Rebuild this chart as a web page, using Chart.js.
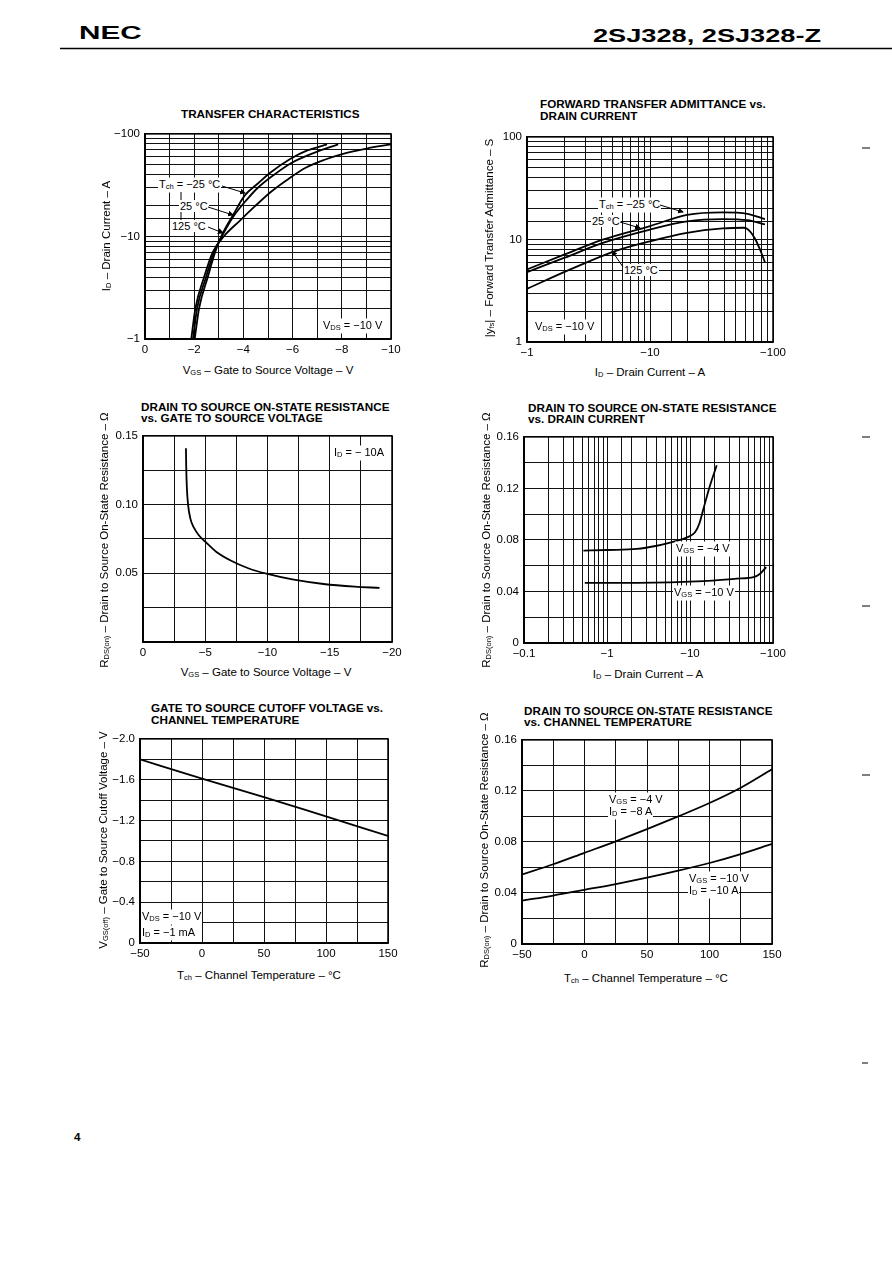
<!DOCTYPE html>
<html><head><meta charset="utf-8">
<script src="https://cdn.jsdelivr.net/npm/chart.js@4.4.1/dist/chart.umd.min.js"></script>
<style>
body{margin:0;width:892px;height:1263px;background:#fff;position:relative;overflow:hidden;font-family:"Liberation Sans",Arial,sans-serif;color:#000}
.t{position:absolute;white-space:nowrap;font-size:11.5px;line-height:12px}
.b{font-weight:bold;font-size:11.7px}
.s{font-size:7.5px;vertical-align:-1px}
.w{background:#fff;padding:0 1px;font-size:11px}
.h1{font-weight:bold;font-size:18px;line-height:18px;transform-origin:0 50%}
.h2{font-weight:bold;font-size:19px;line-height:19px;transform-origin:0 50%}
canvas{position:absolute}
</style></head><body>
<script>
// ---------- DATA ----------
// 1. Transfer characteristics (VGS in V, |ID| in A), VDS = -10 V
const tcVgsM25 = [-2.02,-2.2,-2.55,-2.85,-3.1,-3.6,-4.05,-4.6,-5.1,-5.9,-6.6,-7.4];
const tcIdM25  = [1,2,4,7,10,16.5,25,33,42,57,69,79];
const tcVgs25  = [-1.95,-2.12,-2.48,-2.8,-3.12,-3.58,-4.15,-4.6,-5.25,-5.95,-6.85,-7.85];
const tcId25   = [1,2,4,7,10,15.5,23,30,40,52,65,79];
const tcVgs125 = [-1.88,-2.05,-2.4,-2.75,-3.2,-3.85,-4.45,-5.1,-5.8,-6.55,-7.3,-8.05,-9,-10];
const tcId125  = [1,2,4,7,10,14.2,19.5,27,36,47,56,64,72,79];
// 2. Forward transfer admittance (|ID| in A, |yfs| in S), VDS = -10 V
const yfsIdM25 = [1,2,4.19,10,20,39,62,86];
const yfsM25   = [5.1,7.1,10,13.5,17.4,18.4,17.8,15.8];
const yfsId25  = [1,2,4.19,10,20,39,62,86];
const yfs25    = [4.8,6.6,9.3,12.5,15,15.8,15.4,14.0];
const yfsId125 = [1,2.25,5.2,10,20,39,58,65,72,79,86];
const yfs125   = [3.3,5.1,7.7,9.6,11.6,12.8,13,12,10,7.8,6.0];
// 3. RDS(on) vs VGS, ID = -10 A
const rvVgs = [-3.45,-3.47,-3.52,-3.62,-3.8,-4.1,-4.5,-5.0,-5.9,-7.0,-8.5,-10,-12,-14.5,-17,-19];
const rvR   = [0.141,0.128,0.113,0.100,0.090,0.083,0.0775,0.073,0.0655,0.0595,0.0535,0.0495,0.0455,0.0422,0.0403,0.0394];
// 4. RDS(on) vs ID (|ID| in A)
const riId4  = [0.52,1,2.29,4,5.77,9.2,11.5,13,14.5,17,21];
const riR4   = [0.0717,0.0722,0.073,0.0755,0.078,0.082,0.086,0.093,0.104,0.12,0.138];
const riId10 = [0.54,1,2.29,14.6,36.6,58.3,70,82.8];
const riR10  = [0.0466,0.0466,0.0466,0.048,0.05,0.0512,0.0538,0.0589];
// 5. VGS(off) vs Tch, VDS = -10 V, ID = -1 mA
const coT = [-50,0,50,100,150];
const coV = [-1.80,-1.61,-1.43,-1.24,-1.05];
// 6. RDS(on) vs Tch
const rtT   = [-50,-25,0,25,50,75,100,125,150];
const rtR4  = [0.0545,0.0625,0.0715,0.0805,0.090,0.100,0.1105,0.1225,0.137];
const rtR10 = [0.034,0.038,0.0425,0.047,0.052,0.0575,0.0635,0.0705,0.0785];

// ---------- HELPERS ----------
const FONT = '"Liberation Sans", Arial, sans-serif';
const M = '\u2212';
function pts(xs, ys){ return xs.map((x,i)=>({x, y:ys[i]})); }
function ds(xs, ys){ return {data:pts(xs,ys), showLine:true, borderColor:'#000', borderWidth:1.8, pointRadius:0, cubicInterpolationMode:'monotone', fill:false}; }
function isDec(v){ const l=Math.log10(v); return Math.abs(l-Math.round(l))<1e-6; }
function near(v, step){ return Math.abs(v/step-Math.round(v/step))<1e-6; }
function scale(axis, o){
  const s = {
    type:o.type||'linear', min:o.min, max:o.max, reverse:!!o.reverse,
    grid:{color:'#111', lineWidth:1, drawTicks:false},
    border:{display:true, color:'#000', width:1.5},
    ticks:{color:'#000', font:{family:FONT, size:11.5}, padding:axis==='x'?4:5, autoSkip:false, maxRotation:0, callback:o.label},
    afterFit:(sc)=>{ if(axis==='x') sc.height=22; else sc.width=50; }
  };
  if(o.step) s.ticks.stepSize=o.step;
  return s;
}
const frame = {id:'frame', afterDraw(ch){ const a=ch.chartArea, c=ch.ctx; c.save(); c.strokeStyle='#000'; c.lineWidth=1.5; c.strokeRect(a.left,a.top,a.right-a.left,a.bottom-a.top); c.restore(); }};
function mk(L,T,R,B,xo,yo,datasets){
  const c=document.createElement('canvas');
  const W=R-L+70, H=B-T+32;
  c.width=W; c.height=H; c.style.width=W+'px'; c.style.height=H+'px';
  c.style.left=(L-50)+'px'; c.style.top=(T-10)+'px';
  document.body.appendChild(c);
  new Chart(c,{type:'scatter', data:{datasets}, plugins:[frame],
    options:{responsive:false, animation:false, events:[],
      layout:{padding:{left:0,top:10,right:20,bottom:0}},
      plugins:{legend:{display:false}, tooltip:{enabled:false}},
      scales:{x:scale('x',xo), y:scale('y',yo)}}});
}
function txt(x,y,html,cls,center,extra){
  const d=document.createElement('div');
  d.className='t '+(cls||'');
  d.style.left=x+'px'; d.style.top=y+'px';
  d.style.transform=(center?'translate(-50%,-50%)':'translate(0,-50%)')+(extra||'');
  d.innerHTML=html; document.body.appendChild(d);
}
function rot(x,y,html){
  const d=document.createElement('div');
  d.className='t'; d.style.left=x+'px'; d.style.top=y+'px';
  d.style.transform='translate(-50%,-50%) rotate(-90deg)';
  d.innerHTML=html; document.body.appendChild(d);
}
const neg = v => v===0?'0':M+Math.abs(v);
const logNeg = v => isDec(v)? M+(+v.toPrecision(3)) : '';
const logPos = v => isDec(v)? String(+v.toPrecision(3)) : '';

// ---------- CHARTS ----------
mk(145,132,391,339,
  {min:-10,max:0,reverse:true,step:1,label:v=>near(v,2)?neg(Math.round(v)):''},
  {type:'logarithmic',min:1,max:100,label:logNeg},
  [ds(tcVgsM25,tcIdM25),ds(tcVgs25,tcId25),ds(tcVgs125,tcId125)]);
mk(527,135,773,342,
  {type:'logarithmic',min:1,max:100,label:logNeg},
  {type:'logarithmic',min:1,max:100,label:logPos},
  [ds(yfsIdM25,yfsM25),ds(yfsId25,yfs25),ds(yfsId125,yfs125)]);
mk(143,434,392,642,
  {min:-20,max:0,reverse:true,step:2.5,label:v=>near(v,5)?neg(Math.round(v)):''},
  {min:0,max:0.15,step:0.025,label:v=>(near(v,0.05)&&v>0.001)?v.toFixed(2):''},
  [ds(rvVgs,rvR)]);
mk(524,435,773,643,
  {type:'logarithmic',min:0.1,max:100,label:logNeg},
  {min:0,max:0.16,step:0.02,label:v=>near(v,0.04)?(v<0.001?'0':v.toFixed(2)):''},
  [ds(riId4,riR4),ds(riId10,riR10)]);
mk(140,737,388,943,
  {min:-50,max:150,step:25,label:v=>near(v,50)?(v<0?M+Math.abs(v):String(v)):''},
  {min:-2,max:0,reverse:true,step:0.2,label:v=>near(v,0.4)?(Math.abs(v)<0.001?'0':M+Math.abs(v).toFixed(1)):''},
  [ds(coT,coV)]);
mk(522,738,772,944,
  {min:-50,max:150,step:25,label:v=>near(v,50)?(v<0?M+Math.abs(v):String(v)):''},
  {min:0,max:0.16,step:0.02,label:v=>near(v,0.04)?(v<0.001?'0':v.toFixed(2)):''},
  [ds(rtT,rtR4),ds(rtT,rtR10)]);

// ---------- TEXT ----------
txt(79,33,'NEC','h1',false,' scaleX(1.65)');
txt(593,35,'2SJ328, 2SJ328-Z','h2',false,' scaleX(1.43)');
txt(74,1137,'4','b');
// chart 1
txt(181,114,'TRANSFER CHARACTERISTICS','b');
txt(268,371,'V<span class="s">GS</span> – Gate to Source Voltage – V','',true);
rot(107,236,'I<span class="s">D</span> – Drain Current – A');
txt(158,185,'T<span class="s">ch</span> = '+M+'25 °C','w');
txt(179,206,'25 °C','w');
txt(171,226,'125 °C','w');
txt(322,326,'V<span class="s">DS</span> = '+M+'10 V','w');
// chart 2
txt(540,104,'FORWARD TRANSFER ADMITTANCE vs.','b');
txt(540,116,'DRAIN CURRENT','b');
txt(650,373,'I<span class="s">D</span> – Drain Current – A','',true);
rot(490,238,'|y<span class="s">fs</span>| – Forward Transfer Admittance – S');
txt(598,205,'T<span class="s">ch</span> = '+M+'25 °C','w');
txt(591,221,'25 °C','w');
txt(623,270,'125 °C','w');
txt(534,327,'V<span class="s">DS</span> = '+M+'10 V','w');
// chart 3
txt(141,407,'DRAIN TO SOURCE ON-STATE RESISTANCE','b');
txt(141,418,'vs. GATE TO SOURCE VOLTAGE','b');
txt(266,673,'V<span class="s">GS</span> – Gate to Source Voltage – V','',true);
rot(105,540,'R<span class="s">DS(on)</span> – Drain to Source On-State Resistance – Ω');
txt(333,453,'I<span class="s">D</span> = '+M+' 10A','w');
// chart 4
txt(528,408,'DRAIN TO SOURCE ON-STATE RESISTANCE','b');
txt(528,419,'vs. DRAIN CURRENT','b');
txt(648,675,'I<span class="s">D</span> – Drain Current – A','',true);
rot(487,540,'R<span class="s">DS(on)</span> – Drain to Source On-State Resistance – Ω');
txt(675,549,'V<span class="s">GS</span> = '+M+'4 V','w');
txt(673,593,'V<span class="s">GS</span> = '+M+'10 V','w');
// chart 5
txt(151,708,'GATE TO SOURCE CUTOFF VOLTAGE vs.','b');
txt(151,720,'CHANNEL TEMPERATURE','b');
txt(259,976,'T<span class="s">ch</span> – Channel Temperature – °C','',true);
rot(104,840,'V<span class="s">GS(off)</span> – Gate to Source Cutoff Voltage – V');
txt(141,917,'V<span class="s">DS</span> = '+M+'10 V','w');
txt(141,933,'I<span class="s">D</span> = '+M+'1 mA','w');
// chart 6
txt(524,711,'DRAIN TO SOURCE ON-STATE RESISTANCE','b');
txt(524,722,'vs. CHANNEL TEMPERATURE','b');
txt(646,979,'T<span class="s">ch</span> – Channel Temperature – °C','',true);
rot(485,840,'R<span class="s">DS(on)</span> – Drain to Source On-State Resistance – Ω');
txt(608,800,'V<span class="s">GS</span> = '+M+'4 V','w');
txt(608,812,'I<span class="s">D</span> = '+M+'8 A','w');
txt(688,879,'V<span class="s">GS</span> = '+M+'10 V','w');
txt(688,891,'I<span class="s">D</span> = '+M+'10 A','w');
</script>
<svg width="892" height="1263" style="position:absolute;left:0;top:0;pointer-events:none">
<defs><marker id="ah" markerWidth="6" markerHeight="6" refX="5" refY="3" orient="auto"><path d="M0,0 L6,3 L0,6 z" fill="#000"/></marker></defs>
<line x1="60" y1="48.5" x2="892" y2="48.5" stroke="#000" stroke-width="1.5"/>
<g stroke="#000" stroke-width="1">
<line x1="222" y1="186" x2="245" y2="193" marker-end="url(#ah)"/>
<line x1="208" y1="207" x2="233" y2="215" marker-end="url(#ah)"/>
<line x1="208" y1="227" x2="223" y2="233" marker-end="url(#ah)"/>
<line x1="181" y1="192" x2="181" y2="200"/>
<line x1="181" y1="212" x2="181" y2="220"/>
<line x1="660" y1="205" x2="683" y2="212" marker-end="url(#ah)"/>
<line x1="620" y1="222" x2="640" y2="228" marker-end="url(#ah)"/>
<line x1="623" y1="267" x2="612" y2="251" marker-end="url(#ah)"/>
<line x1="862" y1="148" x2="870" y2="148"/>
<line x1="862" y1="437" x2="870" y2="437"/>
<line x1="862" y1="606" x2="870" y2="606"/>
<line x1="862" y1="775" x2="870" y2="775"/>
<line x1="862" y1="1063" x2="868" y2="1063"/>
</g>
</svg>
</body></html>
